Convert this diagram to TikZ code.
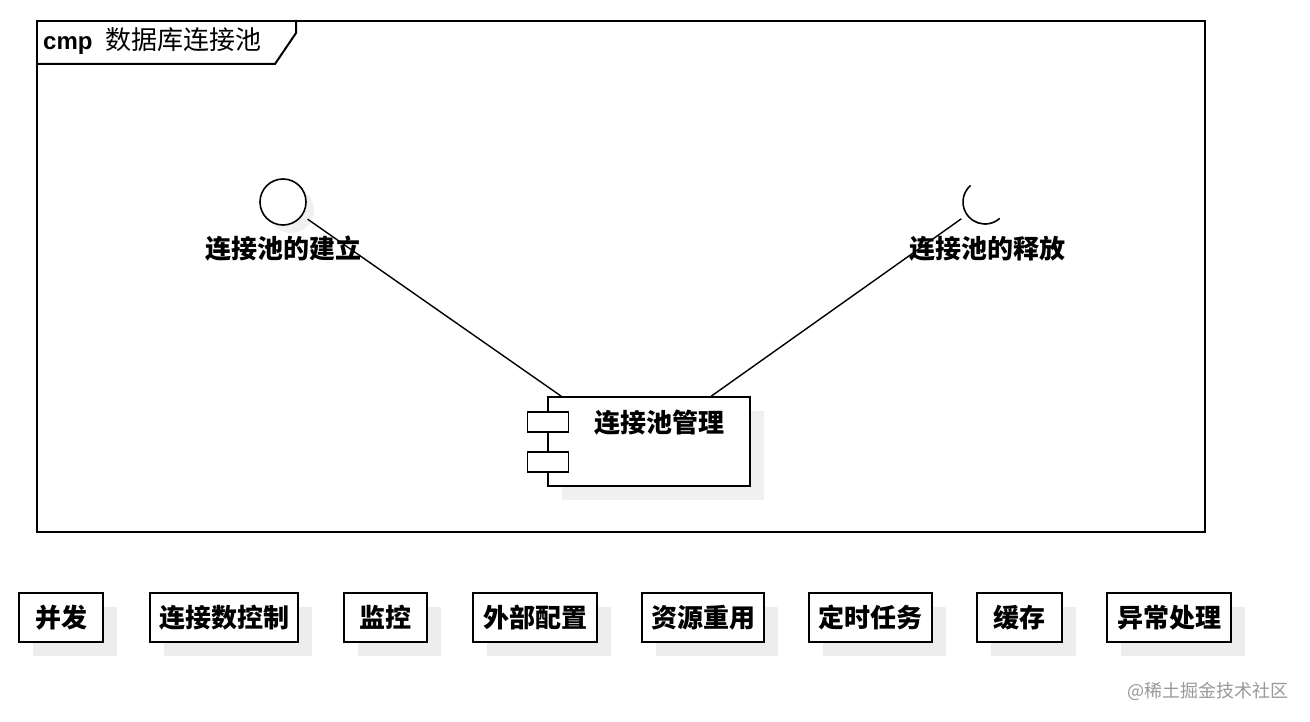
\documentclass[tikz,border=0pt]{standalone}
\usepackage{fontspec}
\setmainfont{Liberation Sans}
\newfontfamily\cjk{Noto Sans CJK SC}
\usetikzlibrary{shadows,calc}
\begin{document}
\begin{tikzpicture}[x=1pt,y=-1pt,
  cjkb/.style={font=\cjk\bfseries\fontsize{26}{30}\selectfont},
  feat/.style={draw, line width=2pt, fill=white, minimum height=49pt, inner sep=0pt, cjkb,
    drop shadow={shadow xshift=14pt, shadow yshift=-14pt, fill=black!7, opacity=1}},
  conn/.style={line width=1.4pt},
  port/.style={draw, line width=1.6pt, fill=white, minimum width=41pt, minimum height=20pt, inner sep=0pt}
]
\useasboundingbox[fill=white] (0,0) rectangle (1310,722);

% frame
\node[draw, line width=2pt, minimum width=1168pt, minimum height=511pt, inner sep=0pt, anchor=north west] (frame) at (36,20) {};
\draw[line width=2pt] (296,20) -- (296,33) -- (275,64) -- (36,64);
\node[anchor=west, inner sep=0pt] (title) at (43,41) {\fontsize{24}{28}\selectfont\textbf{cmp}\hspace{13pt}\cjk\fontsize{26}{30}\selectfont 数据库连接池};

% provided interface (ball)
\node[circle, draw, line width=1.6pt, fill=white, minimum size=46pt, inner sep=0pt,
  drop shadow={shadow xshift=8pt, shadow yshift=-8pt, fill=black!6, opacity=1}] (ball) at (283,202) {};
\node[circle, minimum size=46pt, inner sep=0pt, outer sep=7pt] (ballc) at (283,202) {};
\node[cjkb, inner sep=0pt] (balllab) at (283,249) {连接池的建立};

% required interface (socket)
\node[circle, minimum size=44pt, inner sep=0pt, outer sep=7pt] (sock) at (985,202) {};
\draw[line width=1.6pt] ([shift={(131:22pt)}]sock.center) arc[start angle=131, end angle=312, radius=22pt];
\node[cjkb, inner sep=0pt] (socklab) at (987,249) {连接池的释放};

% component
\node[draw, line width=1.6pt, fill=white, minimum width=202pt, minimum height=89pt, inner sep=0pt,
  drop shadow={shadow xshift=14pt, shadow yshift=-14pt, fill=black!6, opacity=1}] (mgr) at (649,441.5) {};
\node[port] (p1) at (548,422) {};
\node[port] (p2) at (548,462) {};
\node[cjkb, inner sep=0pt] (mgrlab) at (659,423) {连接池管理};
\coordinate (m1) at ($(mgr.north west)+(14,0)$);
\coordinate (m2) at ($(mgr.north west)+(164,0)$);

\draw[conn] (ballc) -- (m1);
\draw[conn] (m2) -- (sock);

% feature boxes
\node[feat, minimum width=84pt]  (f1) at (61,617.5) {并发};
\node[feat, minimum width=148pt] (f2) at (224,617.5) {连接数控制};
\node[feat, minimum width=83pt]  (f3) at (385.5,617.5) {监控};
\node[feat, minimum width=124pt] (f4) at (535,617.5) {外部配置};
\node[feat, minimum width=122pt] (f5) at (703,617.5) {资源重用};
\node[feat, minimum width=123pt] (f6) at (870.5,617.5) {定时任务};
\node[feat, minimum width=85pt]  (f7) at (1019.5,617.5) {缓存};
\node[feat, minimum width=124pt] (f8) at (1169,617.5) {异常处理};

% watermark
\node[font=\cjk\fontsize{18}{20}\selectfont, text=black!40, inner sep=0pt] (wm) at (1208,691) {@稀土掘金技术社区};
\end{tikzpicture}
\end{document}
